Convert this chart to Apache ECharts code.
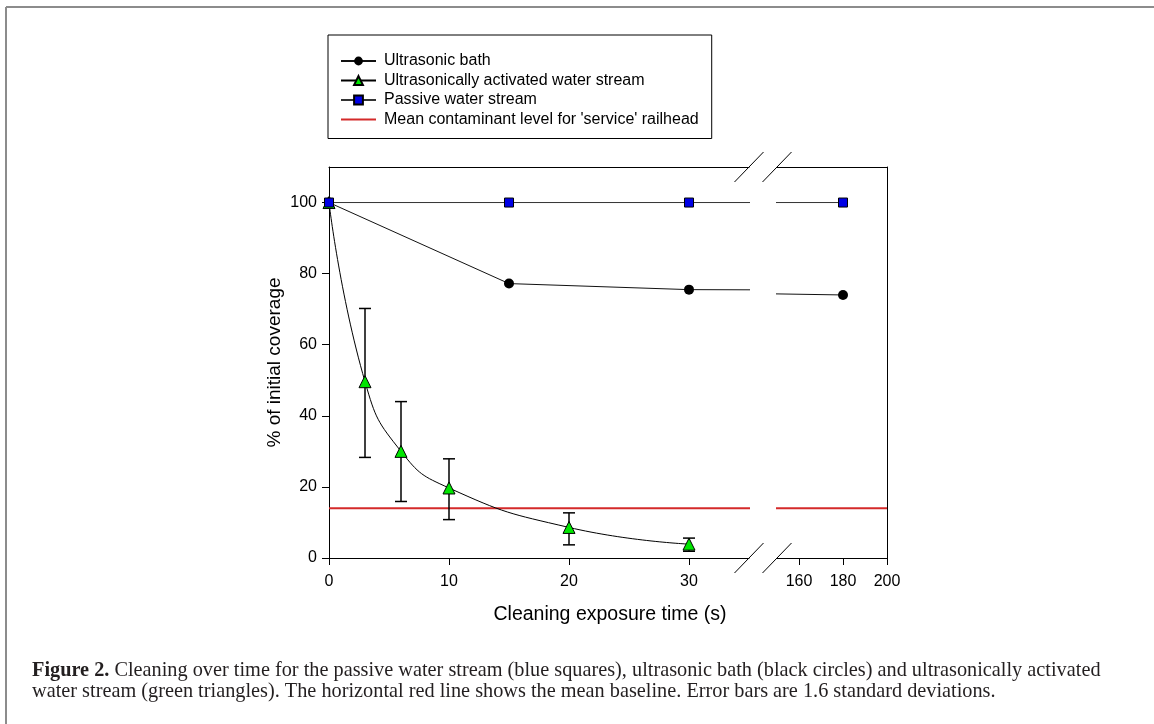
<!DOCTYPE html>
<html>
<head>
<meta charset="utf-8">
<script src="https://cdn.jsdelivr.net/npm/echarts@6/dist/echarts.min.js"></script>
<style>
html,body{margin:0;padding:0;background:#fff;}
#chart{width:1154px;height:724px;}
</style>
</head>
<body>
<div id="chart"></div>
<script>
// ---- data ----
const bathTime = [0, 15, 30, 180];
const bathValue = [100, 77.2, 75.5, 74.0];
const passiveTime = [0, 15, 30, 180];
const passiveValue = [100, 100, 100, 100];
const uawsTime = [0, 3, 6, 10, 20, 30];
const uawsValue = [100, 49.6, 30.0, 19.7, 8.6, 3.9];
const uawsLow = [null, 28.3, 15.9, 10.8, 3.7, 1.9];
const uawsHigh = [null, 70.2, 44.0, 27.9, 12.7, 5.6];
const baselineTime = [0, 200];
const baselineValue = [14, 14];
const xTicksLeft = [0, 10, 20, 30];
const xTicksRight = [160, 180, 200];
const yTicks = [0, 20, 40, 60, 80, 100];

const names = ['Ultrasonic bath', 'Ultrasonically activated water stream', 'Passive water stream', "Mean contaminant level for 'service' railhead"];
const pair = (xs, ys) => xs.map((x, i) => [x, ys[i]]);
const bathData = pair(bathTime, bathValue);
const passiveData = pair(passiveTime, passiveValue);
const uawsData = pair(uawsTime, uawsValue);
const baselineData = pair(baselineTime, baselineValue);
const errData = uawsTime.map((x, i) => [x, uawsLow[i], uawsHigh[i]]).filter(d => d[1] != null);

const FONT = "'Liberation Sans', Arial, sans-serif";
const SERIF = "'Liberation Serif', 'Times New Roman', serif";
const chart = echarts.init(document.getElementById('chart'), null, {renderer: 'canvas'});

const G1 = {left: 329, top: 167, width: 420, height: 391};
const G2 = {left: 777, top: 167, width: 110, height: 391};

const axisLineStyle = {color: '#000', width: 1};
function yAxisMain(gridIndex, show) {
  return {
    type: 'value', gridIndex: gridIndex, min: 0, max: 110, position: show ? 'left' : 'right',
    axisLine: {show: true, onZero: false, lineStyle: axisLineStyle},
    axisTick: {show: show, length: 7, inside: false, customValues: yTicks, lineStyle: axisLineStyle},
    axisLabel: {show: show, margin: 12, fontSize: 16, color: '#000', fontFamily: FONT, customValues: yTicks},
    splitLine: {show: false},
    name: show ? '% of initial coverage' : '',
    nameLocation: 'middle', nameGap: 45,
    nameTextStyle: {fontSize: 19, color: '#000', fontFamily: FONT}
  };
}
function xAxisBottom(gridIndex, min, max, ticks) {
  return {
    type: 'value', gridIndex: gridIndex, min: min, max: max, position: 'bottom',
    axisLine: {show: true, onZero: false, lineStyle: axisLineStyle},
    axisTick: {show: true, length: 7, inside: false, customValues: ticks, lineStyle: axisLineStyle},
    axisLabel: {show: true, margin: 16, fontSize: 16, color: '#000', fontFamily: FONT, customValues: ticks},
    splitLine: {show: false}
  };
}
function xAxisTop(gridIndex, min, max) {
  return {
    type: 'value', gridIndex: gridIndex, min: min, max: max, position: 'top',
    axisLine: {show: true, onZero: false, lineStyle: axisLineStyle},
    axisTick: {show: false}, axisLabel: {show: false}, splitLine: {show: false}
  };
}

function bathSeries(i) {
  return {name: names[0], type: 'line', xAxisIndex: i * 2, yAxisIndex: i, data: bathData,
    symbol: 'circle', symbolSize: 10, z: 3,
    lineStyle: {color: '#111', width: 1}, itemStyle: {color: '#000', borderColor: '#000', borderWidth: 0}};
}
function passiveSeries(i) {
  return {name: names[2], type: 'line', xAxisIndex: i * 2, yAxisIndex: i, data: passiveData,
    symbol: 'rect', symbolSize: 9, z: 5,
    lineStyle: {color: '#333', width: 1}, itemStyle: {color: '#0000e6', borderColor: '#000', borderWidth: 1}};
}
function baselineSeries(i) {
  return {name: names[3], type: 'line', xAxisIndex: i * 2, yAxisIndex: i, data: baselineData,
    symbol: 'none', z: 2,
    lineStyle: {color: '#d42a2a', width: 2}, itemStyle: {color: '#d42a2a', opacity: 0}};
}

const option = {
  animation: false,
  backgroundColor: '#fff',
  textStyle: {fontFamily: FONT},
  title: {
    left: 32, top: 660, padding: 0,
    text: "{b|Figure 2.} Cleaning over time for the passive water stream (blue squares), ultrasonic bath (black circles) and ultrasonically activated\nwater stream (green triangles). The horizontal red line shows the mean baseline. Error bars are 1.6 standard deviations.",
    textStyle: {
      fontFamily: SERIF, fontSize: 20.3, fontWeight: 'normal', color: '#231f20', lineHeight: 21,
      rich: {b: {fontFamily: SERIF, fontSize: 20.3, fontWeight: 'bold', color: '#231f20', lineHeight: 21}}
    }
  },
  legend: {
    orient: 'vertical', left: 328, top: 35,
    data: [names[0], names[1], names[2], {name: names[3], itemStyle: {opacity: 0}}],
    itemWidth: 35, itemHeight: 11, itemGap: 3.5,
    padding: [18, 13, 11, 12],
    borderColor: '#000', borderWidth: 1, backgroundColor: '#fff',
    textStyle: {fontSize: 16, color: '#000', fontFamily: FONT, lineHeight: 16, padding: [0, 0, 0, 3]},
    selectedMode: false
  },
  grid: [
    Object.assign({containLabel: false}, G1),
    Object.assign({containLabel: false}, G2)
  ],
  xAxis: [
    xAxisBottom(0, 0, 35, xTicksLeft), xAxisTop(0, 0, 35),
    xAxisBottom(1, 150, 200, xTicksRight), xAxisTop(1, 150, 200)
  ],
  yAxis: [yAxisMain(0, true), yAxisMain(1, false)],
  series: [
    baselineSeries(0), baselineSeries(1),
    bathSeries(0), bathSeries(1),
    {
      name: 'err', type: 'custom', xAxisIndex: 0, yAxisIndex: 0, data: errData, z: 3,
      renderItem: function (params, api) {
        const x = api.value(0);
        const lo = api.coord([x, api.value(1)]);
        const hi = api.coord([x, api.value(2)]);
        const w = 6;
        const st = {stroke: '#000', lineWidth: 1.5};
        return {type: 'group', children: [
          {type: 'line', shape: {x1: hi[0], y1: hi[1], x2: lo[0], y2: lo[1]}, style: st},
          {type: 'line', shape: {x1: hi[0] - w, y1: hi[1], x2: hi[0] + w, y2: hi[1]}, style: st},
          {type: 'line', shape: {x1: lo[0] - w, y1: lo[1], x2: lo[0] + w, y2: lo[1]}, style: st}
        ]};
      }
    },
    {
      name: names[1], type: 'line', xAxisIndex: 0, yAxisIndex: 0, data: uawsData,
      symbol: 'triangle', symbolSize: 12, smooth: 0.5, z: 4,
      lineStyle: {color: '#000', width: 1}, itemStyle: {color: '#00e600', borderColor: '#000', borderWidth: 1}
    },
    passiveSeries(0), passiveSeries(1)
  ]
};
chart.setOption(option);

// decorations: figure frame, axis-break marks and x-axis title
function breakMarks() {
  const els = [];
  const pts = [
    chart.convertToPixel({xAxisIndex: 0, yAxisIndex: 0}, [35, 0]),
    chart.convertToPixel({xAxisIndex: 2, yAxisIndex: 1}, [150, 0]),
    chart.convertToPixel({xAxisIndex: 0, yAxisIndex: 0}, [35, 110]),
    chart.convertToPixel({xAxisIndex: 2, yAxisIndex: 1}, [150, 110])
  ];
  pts.forEach(p => {
    els.push({type: 'line', shape: {x1: p[0] - 14.5, y1: p[1] + 15, x2: p[0] + 14.5, y2: p[1] - 15},
      style: {stroke: '#000', lineWidth: 1}, z: 10});
  });
  els.push({type: 'text', x: 610, y: 615, style: {text: 'Cleaning exposure time (s)', fontSize: 19.5, fontFamily: FONT,
    fill: '#000', align: 'center', verticalAlign: 'middle'}});
  els.push({type: 'line', shape: {x1: 6, y1: 7, x2: 1154, y2: 7}, style: {stroke: '#8c8c8c', lineWidth: 2}});
  els.push({type: 'line', shape: {x1: 6, y1: 7, x2: 6, y2: 724}, style: {stroke: '#8c8c8c', lineWidth: 2}});
  return els;
}
chart.setOption({graphic: breakMarks()});
</script>
</body>
</html>
